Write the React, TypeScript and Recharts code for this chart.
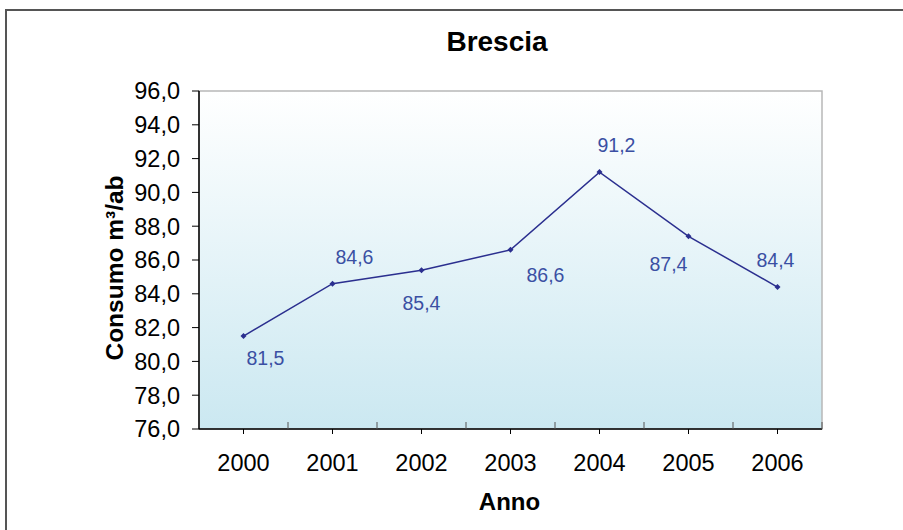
import React from 'react';
import { LineChart, Line, XAxis, YAxis, ReferenceArea, LabelList } from 'recharts';

const categories = ['2000', '2001', '2002', '2003', '2004', '2005', '2006'];
const consumo = [81.5, 84.6, 85.4, 86.6, 91.2, 87.4, 84.4];
const yTicks = [76, 78, 80, 82, 84, 86, 88, 90, 92, 94, 96];

const data = categories.map((anno, i) => ({ anno, consumo: consumo[i] }));

// label placement offsets (style only), relative to each point
const labelOffsets: [number, number][] = [
  [22, 22],
  [22, -27],
  [0, 33],
  [35, 25],
  [17, -27],
  [-20, 28],
  [-2, -27],
];

const FONT = '"Liberation Sans", Arial, sans-serif';
const fmt = (v: number) => v.toFixed(1).replace('.', ',');

const XTick = (props: any) => {
  const { x, y, payload } = props;
  const axisY = y - 5 - 20;
  const off = payload && typeof payload.offset === 'number' && payload.offset > 0 ? payload.offset : 44.5;
  return (
    <g>
      <line x1={x + off} x2={x + off} y1={axisY} y2={axisY - 7} stroke="#555" strokeWidth={1} />
      <text x={x} y={y} dy="0.71em" textAnchor="middle" fontSize={23.5} fontFamily={FONT} fill="#000">
        {payload.value}
      </text>
    </g>
  );
};

const Diamond = (props: any) => {
  const { cx, cy } = props;
  if (cx == null || cy == null) return null;
  const r = 3;
  return <polygon points={`${cx},${cy - r} ${cx + r},${cy} ${cx},${cy + r} ${cx - r},${cy}`} fill="#2B2F8F" />;
};

const DataLabel = (props: any) => {
  const { x, y, value, index } = props;
  const [dx, dy] = labelOffsets[index] || [0, -20];
  return (
    <text x={x + dx} y={y + dy} dy="0.36em" textAnchor="middle" fontSize={19.5} fontFamily={FONT} fill="#3A4FA3">
      {fmt(value)}
    </text>
  );
};

export default function App() {
  return (
    <div style={{ position: 'absolute', left: 0, top: 0, width: 903, height: 530, background: '#fff', overflow: 'hidden' }}>
      <div style={{ position: 'absolute', left: 5, top: 9, width: 1000, height: 600, borderLeft: '2px solid #555', borderTop: '2px solid #555' }} />
      <LineChart
        width={903}
        height={530}
        data={data}
        margin={{ top: 91, right: 81, bottom: 0, left: 0 }}
        style={{ position: 'absolute', left: 0, top: 0 }}
      >
        <defs>
          <linearGradient id="plotBg" x1="0" y1="0" x2="0" y2="1">
            <stop offset="0%" stopColor="#FFFFFF" />
            <stop offset="100%" stopColor="#CBE8F1" />
          </linearGradient>
        </defs>
        <ReferenceArea y1={76} y2={96} fill="url(#plotBg)" fillOpacity={1} stroke="#B8B8B8" strokeWidth={1.5} ifOverflow="visible" />
        <XAxis
          dataKey="anno"
          type="category"
          scale="band"
          height={101}
          tickSize={5}
          tickMargin={20}
          axisLine={{ stroke: '#000', strokeWidth: 1.5 }}
          tickLine={{ stroke: '#000' }}
          tick={<XTick />}
          interval={0}
          label={{
            content: (p: any) => {
              const vb = p.viewBox;
              return (
                <text x={vb.x + vb.width / 2 - 1} y={510} textAnchor="middle" fontSize={24} fontWeight="bold" fontFamily={FONT} fill="#000">
                  Anno
                </text>
              );
            },
          }}
        />
        <YAxis
          domain={[76, 96]}
          ticks={yTicks}
          width={199}
          tickSize={7}
          tickMargin={12}
          tickFormatter={fmt}
          axisLine={{ stroke: '#000', strokeWidth: 1.5 }}
          tickLine={{ stroke: '#000' }}
          tick={{ fill: '#000', fontSize: 23.5, fontFamily: FONT }}
          interval={0}
          label={{
            content: () => (
              <text x={123} y={268} transform="rotate(-90 123 268)" textAnchor="middle" fontSize={24.5} fontWeight="bold" fontFamily={FONT} fill="#000">
                Consumo m³/ab
              </text>
            ),
          }}
        />
        <Line
          type="linear"
          dataKey="consumo"
          stroke="#2B2F8F"
          strokeWidth={1.5}
          dot={<Diamond />}
          activeDot={false}
          isAnimationActive={false}
        >
          <LabelList dataKey="consumo" content={<DataLabel />} />
        </Line>
      </LineChart>
      <svg width={903} height={530} style={{ position: 'absolute', left: 0, top: 0, pointerEvents: 'none' }}>
        <text x={497} y={50.5} textAnchor="middle" fontSize={28} fontWeight="bold" fontFamily={FONT} fill="#000">
          Brescia
        </text>
      </svg>
    </div>
  );
}
